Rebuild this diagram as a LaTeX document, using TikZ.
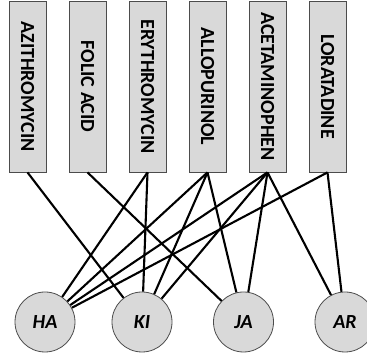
\documentclass[tikz,border=0pt]{standalone}
\usepackage{fontspec}
\setmainfont{Carlito}

\tikzset{
    drug/.style={draw=black!70, fill=black!15, line width=0.8pt,
        minimum width=37pt, minimum height=171pt, inner sep=0pt,
        font=\bfseries\fontsize{20}{20}\selectfont},
    site/.style={circle, draw=black!70, fill=black!15, line width=0.8pt,
        minimum size=60pt, inner sep=0pt,
        font=\bfseries\itshape\fontsize{20}{20}\selectfont},
    link/.style={line width=2.1pt}
}

\begin{document}
\begin{tikzpicture}[x=1pt,y=1pt]
    \useasboundingbox (0,0) rectangle (367,356);

    % drugs on top
    \foreach \n/\x/\t in {azi/27.5/AZITHROMYCIN, fol/87.5/FOLIC ACID,
        ery/147.5/ERYTHROMYCIN, all/207.5/ALLOPURINOL,
        ace/267.5/ACETAMINOPHEN, lor/327.5/LORATADINE}{
        \node[drug] (\n) at (\x,269.5) {\rotatebox{-90}{\t}};
    }

    % sites below
    \foreach \n/\x/\t in {ha/45/HA, ki/142/KI, ja/243.5/JA, ar/345/AR}{
        \node[site] (\n) at (\x,34) {\t};
    }

    \foreach \a/\b in {azi/ki, fol/ja, ery/ha, ery/ki,
        all/ha, all/ki, all/ja,
        ace/ha, ace/ki, ace/ja, ace/ar,
        lor/ha, lor/ar}{
        \draw[link] (\a.south) -- (\b);
    }

\end{tikzpicture}
\end{document}
